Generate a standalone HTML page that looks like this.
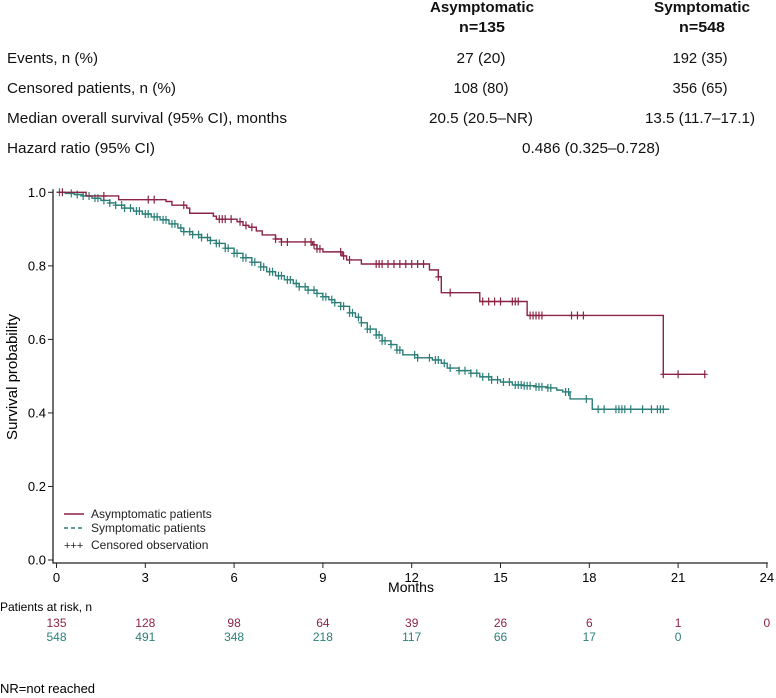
<!DOCTYPE html>
<html><head><meta charset="utf-8"><style>
body{margin:0;background:#fff;width:776px;height:698px;overflow:hidden}
svg{display:block;font-family:"Liberation Sans",Arial,sans-serif}
</style></head><body>
<svg id="c" width="776" height="698" viewBox="0 0 776 698">
<g font-size="15" fill="#111">
<text x="482" y="12" text-anchor="middle" font-weight="bold" textLength="104" lengthAdjust="spacingAndGlyphs">Asymptomatic</text>
<text x="482" y="32" text-anchor="middle" font-weight="bold" textLength="46" lengthAdjust="spacingAndGlyphs">n=135</text>
<text x="702" y="12" text-anchor="middle" font-weight="bold" textLength="96" lengthAdjust="spacingAndGlyphs">Symptomatic</text>
<text x="702" y="32" text-anchor="middle" font-weight="bold" textLength="46" lengthAdjust="spacingAndGlyphs">n=548</text>
<text x="7" y="63" textLength="91" lengthAdjust="spacingAndGlyphs">Events, n (%)</text>
<text x="481" y="63" text-anchor="middle" textLength="49" lengthAdjust="spacingAndGlyphs">27 (20)</text>
<text x="700" y="63" text-anchor="middle" textLength="55" lengthAdjust="spacingAndGlyphs">192 (35)</text>
<text x="7" y="93" textLength="169" lengthAdjust="spacingAndGlyphs">Censored patients, n (%)</text>
<text x="481" y="93" text-anchor="middle" textLength="55" lengthAdjust="spacingAndGlyphs">108 (80)</text>
<text x="700" y="93" text-anchor="middle" textLength="55" lengthAdjust="spacingAndGlyphs">356 (65)</text>
<text x="7" y="123" textLength="280" lengthAdjust="spacingAndGlyphs">Median overall survival (95% CI), months</text>
<text x="481" y="123" text-anchor="middle" textLength="104" lengthAdjust="spacingAndGlyphs">20.5 (20.5–NR)</text>
<text x="700" y="123" text-anchor="middle" textLength="110" lengthAdjust="spacingAndGlyphs">13.5 (11.7–17.1)</text>
<text x="7" y="153" textLength="148" lengthAdjust="spacingAndGlyphs">Hazard ratio (95% CI)</text>
<text x="591" y="153" text-anchor="middle" textLength="138" lengthAdjust="spacingAndGlyphs">0.486 (0.325–0.728)</text>
</g>
<g id="axes"></g>
<g id="plot"></g>
<g font-size="12" fill="#222">
<line x1="64" y1="514" x2="84" y2="514" stroke="#8b2444" stroke-width="1.5"/>
<text x="91" y="518">Asymptomatic patients</text>
<line x1="64" y1="528" x2="84" y2="528" stroke="#2b7f78" stroke-width="1.5" stroke-dasharray="4,3"/>
<text x="91" y="532">Symptomatic patients</text>
<text x="64" y="549" font-size="11">+++</text>
<text x="91" y="549">Censored observation</text>
</g>
<text x="411" y="592" text-anchor="middle" font-size="14">Months</text>
<text transform="translate(17,377) rotate(-90)" text-anchor="middle" font-size="15">Survival probability</text>
<text x="0" y="611" font-size="12">Patients at risk, n</text>
<g id="risk" font-size="12"></g>
<text x="0" y="693" font-size="13">NR=not reached</text>
</svg>
<script>
const xTicks=[0,3,6,9,12,15,18,21,24];
const yTicks=[0,0.2,0.4,0.6,0.8,1.0];
const riskAsym=[135,128,98,64,39,26,6,1,0];
const riskSym=[548,491,348,218,117,66,17,0,null];
const asymT=[0,1.0,2.1,3.7,3.9,4.4,4.5,5.3,5.4,6.1,6.3,6.5,6.75,6.95,7.4,7.6,8.65,8.8,9.0,9.65,9.8,10.3,12.6,12.9,13.0,14.3,15.9,20.5];
const asymS=[1.0,0.99,0.98,0.975,0.965,0.957,0.943,0.935,0.927,0.92,0.91,0.905,0.895,0.884,0.873,0.865,0.857,0.846,0.838,0.827,0.816,0.805,0.789,0.77,0.727,0.703,0.665,0.505];
const asymEnd=21.9;
const asymCens=[0.2,1.6,3.1,3.3,4.3,5.5,5.6,5.7,5.9,6.2,6.4,6.6,7.4,7.6,7.8,8.4,8.6,8.7,8.8,8.9,9.6,9.7,9.9,10.8,10.9,11.0,11.2,11.4,11.6,11.8,12.0,12.2,12.4,12.9,13.3,14.4,14.6,14.8,15.0,15.4,15.5,15.6,16.0,16.1,16.2,16.3,16.4,17.4,17.6,17.8,20.5,21.0,21.9];
const symT=[0,0.3,0.6,0.9,1.2,1.5,1.8,2.0,2.3,2.6,2.9,3.2,3.5,3.8,4.1,4.3,4.6,4.9,5.2,5.4,5.7,6.0,6.3,6.6,6.9,7.1,7.4,7.7,8.0,8.2,8.5,8.8,9.0,9.2,9.4,9.6,9.9,10.1,10.3,10.5,10.8,11.0,11.3,11.5,11.7,12.2,12.7,13.0,13.2,13.6,14.0,14.3,14.7,15.0,15.4,15.8,16.2,16.6,16.9,17.1,17.35,18.1];
const symS=[1.0,0.997,0.994,0.99,0.984,0.978,0.971,0.965,0.957,0.949,0.941,0.933,0.925,0.914,0.903,0.893,0.885,0.877,0.869,0.861,0.848,0.834,0.822,0.81,0.797,0.784,0.773,0.762,0.752,0.743,0.734,0.725,0.716,0.708,0.7,0.69,0.672,0.66,0.645,0.628,0.612,0.596,0.586,0.571,0.558,0.55,0.544,0.535,0.522,0.515,0.508,0.498,0.49,0.484,0.476,0.474,0.471,0.468,0.462,0.457,0.438,0.41];
const symEnd=20.7;
const symCens=[0.1,0.5,0.7,0.9,1.1,1.3,1.4,1.6,1.8,2.0,2.2,2.3,2.5,2.7,2.8,3.0,3.1,3.3,3.4,3.6,3.7,3.9,4.0,4.2,4.3,4.5,4.6,4.8,4.9,5.1,5.2,5.4,5.5,5.7,5.8,6.0,6.1,6.3,6.4,6.6,6.7,6.9,7.0,7.2,7.3,7.5,7.6,7.8,7.9,8.1,8.2,8.4,8.5,8.7,8.8,9.0,9.1,9.3,9.4,9.6,9.7,9.9,10.0,10.2,10.3,10.5,10.6,10.8,10.9,11.0,11.1,11.3,11.5,11.6,12.1,12.2,12.6,12.8,12.9,13.1,13.3,13.6,13.8,14.0,14.2,14.4,14.6,14.7,14.9,15.1,15.3,15.5,15.6,15.7,15.8,15.9,16.0,16.2,16.3,16.4,16.6,16.7,17.2,17.3,17.9,18.3,18.5,18.9,19.0,19.1,19.2,19.4,19.8,20.1,20.3,20.4,20.5];
const NS="http://www.w3.org/2000/svg";
const X=m=>56.5+m*29.6;
const Y=s=>560-s*367.7;
function mk(tag,attrs,parent){const e=document.createElementNS(NS,tag);for(const k in attrs)e.setAttribute(k,attrs[k]);parent.appendChild(e);return e;}
const axes=document.getElementById('axes'),plot=document.getElementById('plot'),risk=document.getElementById('risk');
let a=mk('path',{d:`M53 ${Y(1.0)-3}V563H${X(24)+1}`,stroke:'#222','stroke-width':1.3,fill:'none'},axes);


yTicks.forEach(v=>{
 const l=mk('line',{x1:48,x2:53,y1:Y(v),y2:Y(v),stroke:'#222'},axes);
 
 
 const t=mk('text',{x:46,y:Y(v)+4.5,'text-anchor':'end','font-size':13},axes);t.textContent=v.toFixed(1);
 
 
});
xTicks.forEach((v,i)=>{
 const l=mk('line',{x1:X(v),x2:X(v),y1:563,y2:568,stroke:'#222'},axes);
 
 
 const t=mk('text',{x:X(v),y:582,'text-anchor':'middle','font-size':13},axes);t.textContent=v;
 
 
 const r1=mk('text',{x:Math.max(X(v),10),y:627,'text-anchor':'middle',fill:'#8b2444'},risk);r1.textContent=riskAsym[i];
 
 
 if(riskSym[i]!==null){const r2=mk('text',{x:Math.max(X(v),10),y:641,'text-anchor':'middle',fill:'#2b7f78'},risk);r2.textContent=riskSym[i];
 
 }
});
function surv(T,S,m){let s=S[0];for(let i=0;i<T.length;i++)if(T[i]<=m)s=S[i];return s;}
function draw(T,S,end,cens,col,name){
 let d=`M${X(T[0])} ${Y(S[0])}`;
 for(let i=1;i<T.length;i++)d+=`H${X(T[i])}V${Y(S[i])}`;
 d+=`H${X(end)}`;
 const p=mk('path',{d,stroke:col,'stroke-width':1.4,fill:'none'},plot);
 
 
 cens.forEach(m=>{const y=Y(surv(T,S,m)),x=X(m);
  const c=mk('path',{d:`M${x} ${y-4}V${y+4}M${x-3} ${y}H${x+3}`,stroke:col,'stroke-width':1.2},plot);
  
  });
}
draw(symT,symS,symEnd,symCens,'#2b7f78','symptomatic');
draw(asymT,asymS,asymEnd,asymCens,'#8b2444','asymptomatic');
</script>
</body></html>
